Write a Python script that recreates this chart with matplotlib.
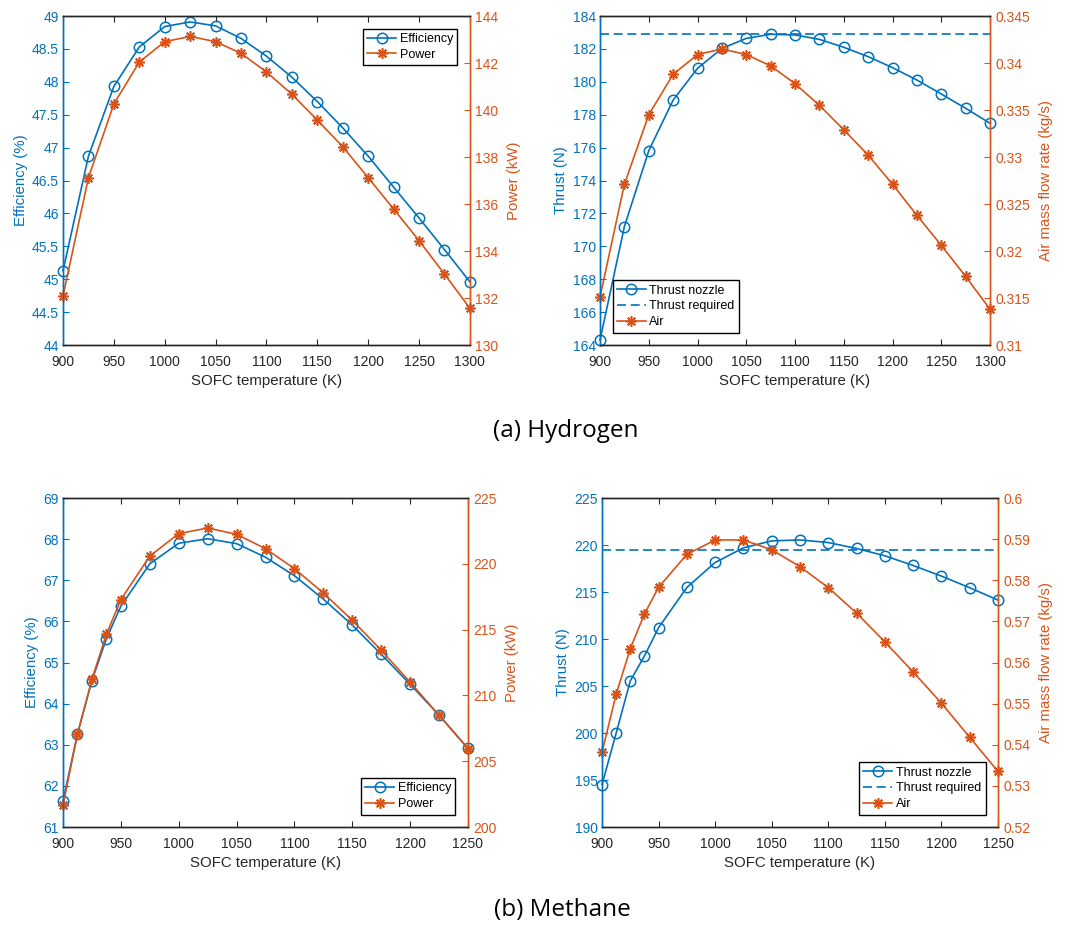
import numpy as np
import matplotlib.pyplot as plt
from matplotlib.lines import Line2D

plt.rcParams['font.family'] = ['Liberation Sans', 'DejaVu Sans']
plt.rcParams['font.size'] = 10

BLUE = '#0072BD'
ORANGE = '#D95319'
GREY = '#262626'

# --- Hydrogen ---
h2_temp = [900, 925, 950, 975, 1000, 1025, 1050, 1075, 1100, 1125, 1150, 1175,
           1200, 1225, 1250, 1275, 1300]
h2_eff = [45.13, 46.87, 47.93, 48.53, 48.84, 48.91, 48.85, 48.66, 48.39, 48.07,
          47.70, 47.30, 46.87, 46.40, 45.93, 45.45, 44.96]
h2_power = [132.09, 137.12, 140.26, 142.04, 142.91, 143.13, 142.91, 142.41, 141.62,
            140.67, 139.57, 138.44, 137.12, 135.79, 134.44, 133.02, 131.56]
h2_thrust = [164.30, 171.20, 175.81, 178.89, 180.82, 182.03, 182.64, 182.89, 182.85,
             182.58, 182.10, 181.53, 180.86, 180.11, 179.26, 178.39, 177.48]
h2_thrust_req = 182.91
h2_air = [0.3151, 0.3271, 0.3345, 0.3388, 0.3409, 0.3415, 0.3409, 0.3397, 0.3378,
          0.3355, 0.3329, 0.3302, 0.3271, 0.3238, 0.3206, 0.3173, 0.3138]

# --- Methane ---
ch4_temp = [900, 912.5, 925, 937.5, 950, 975, 1000, 1025, 1050, 1075, 1100, 1125,
            1150, 1175, 1200, 1225, 1250]
ch4_eff = [61.63, 63.26, 64.56, 65.58, 66.37, 67.40, 67.90, 68.01, 67.89, 67.56,
           67.11, 66.54, 65.91, 65.20, 64.47, 63.72, 62.91]
ch4_power = [201.66, 207.08, 211.23, 214.65, 217.28, 220.59, 222.29, 222.72, 222.24,
             221.15, 219.63, 217.78, 215.71, 213.43, 211.00, 208.49, 205.96]
ch4_thrust = [194.52, 200.00, 205.55, 208.20, 211.21, 215.49, 218.14, 219.70, 220.44,
              220.54, 220.26, 219.63, 218.85, 217.82, 216.69, 215.45, 214.14]
ch4_thrust_req = 219.45
ch4_air = [0.5382, 0.5523, 0.5634, 0.5718, 0.5783, 0.5863, 0.5898, 0.5898, 0.5874,
           0.5833, 0.5782, 0.5720, 0.5650, 0.5577, 0.5501, 0.5418, 0.5335]

xlabel = 'SOFC temperature (K)'

STAR = (8, 2, 0)
DASH = (0, (5.4, 2.8))
circle_kw = dict(color=BLUE, marker='o', mfc='none', ms=7.5, mew=1.1, lw=1.2)
star_kw = dict(color=ORANGE, marker=STAR, ms=7.5, mew=1.2, lw=1.2)
legend_kw = dict(fontsize=9, fancybox=False, framealpha=1, edgecolor='black',
                 handlelength=2.3, handletextpad=0.3, borderpad=0.35,
                 labelspacing=0.3, borderaxespad=1.0)


def style_axes(ax, ax2, xlim, xticks, ylim, yticks, y2lim, y2ticks):
    ax.set_xlim(xlim)
    ax.set_xticks(xticks)
    ax.set_ylim(ylim)
    ax.set_yticks(yticks)
    ax.set_yticklabels(['%g' % v for v in yticks])
    ax2.set_ylim(y2lim)
    ax2.set_yticks(y2ticks)
    ax2.set_yticklabels(['%g' % v for v in y2ticks])
    for a in (ax, ax2):
        for s in a.spines.values():
            s.set_linewidth(1.0)
        a.spines['top'].set_color(GREY)
        a.spines['bottom'].set_color(GREY)
        a.spines['left'].set_color(BLUE)
        a.spines['right'].set_color(ORANGE)
    ax.tick_params(axis='x', direction='in', top=True, length=4, colors=GREY,
                   labelsize=10, pad=7.5)
    ax.tick_params(axis='y', direction='in', length=4, colors=BLUE, labelsize=10, pad=3)
    ax2.tick_params(axis='y', direction='in', length=4, colors=ORANGE, labelsize=10, pad=4)
    ax.set_xlabel(xlabel, color=GREY, fontsize=10.8, labelpad=3)


def efficiency_panel(rect, temp, eff, power, xlim, xticks, ylim, yticks, y2lim, y2ticks,
                     legend_loc):
    ax = fig.add_axes(rect)
    ax2 = ax.twinx()
    ax.plot(temp, eff, clip_on=False, **circle_kw)
    ax2.plot(temp, power, clip_on=False, **star_kw)
    style_axes(ax, ax2, xlim, xticks, ylim, yticks, y2lim, y2ticks)
    ax.set_ylabel('Efficiency (%)', color=BLUE, fontsize=10.8, labelpad=3)
    ax2.set_ylabel('Power (kW)', color=ORANGE, fontsize=10.8, labelpad=6)
    handles = [Line2D([], [], **circle_kw), Line2D([], [], **star_kw)]
    leg = ax2.legend(handles, ['Efficiency', 'Power'], loc=legend_loc, **legend_kw)
    leg.get_frame().set_linewidth(1.0)
    return ax, ax2


def thrust_panel(rect, temp, thrust, req, air, xlim, xticks, ylim, yticks, y2lim, y2ticks,
                 legend_loc):
    ax = fig.add_axes(rect)
    ax2 = ax.twinx()
    ax.plot(temp, thrust, clip_on=False, **circle_kw)
    ax.plot(temp, [req] * len(temp), color=BLUE, ls=DASH, lw=1.2)
    ax2.plot(temp, air, clip_on=False, **star_kw)
    style_axes(ax, ax2, xlim, xticks, ylim, yticks, y2lim, y2ticks)
    ax.set_ylabel('Thrust (N)', color=BLUE, fontsize=10.8, labelpad=3)
    ax2.set_ylabel('Air mass flow rate (kg/s)', color=ORANGE, fontsize=10.8, labelpad=6)
    handles = [Line2D([], [], **circle_kw),
               Line2D([], [], color=BLUE, ls=DASH, lw=1.2),
               Line2D([], [], **star_kw)]
    leg = ax2.legend(handles, ['Thrust nozzle', 'Thrust required', 'Air'], loc=legend_loc,
                     **legend_kw)
    leg.get_frame().set_linewidth(1.0)
    return ax, ax2


fig = plt.figure(figsize=(10.68, 9.26), dpi=100)

h2_x = np.arange(900, 1301, 50)
ch4_x = np.arange(900, 1251, 50)

efficiency_panel([0.059, 0.6274, 0.381, 0.3553], h2_temp, h2_eff, h2_power,
                 (900, 1300), h2_x, (44, 49), np.arange(44, 49.01, 0.5),
                 (130, 144), np.arange(130, 144.1, 2), 'upper right')
thrust_panel([0.5618, 0.6274, 0.3652, 0.3553], h2_temp, h2_thrust, h2_thrust_req, h2_air,
             (900, 1300), h2_x, (164, 184), np.arange(164, 184.1, 2),
             (0.31, 0.345), np.round(np.arange(0.31, 0.3451, 0.005), 3), 'lower left')
efficiency_panel([0.059, 0.1069, 0.3792, 0.3553], ch4_temp, ch4_eff, ch4_power,
                 (900, 1250), ch4_x, (61, 69), np.arange(61, 69.1, 1),
                 (200, 225), np.arange(200, 225.1, 5), 'lower right')
thrust_panel([0.5637, 0.1069, 0.3708, 0.3553], ch4_temp, ch4_thrust, ch4_thrust_req, ch4_air,
             (900, 1250), ch4_x, (190, 225), np.arange(190, 225.1, 5),
             (0.52, 0.6), np.round(np.arange(0.52, 0.6001, 0.01), 2), 'lower right')

fig.text(566 / 1068, 1 - 431 / 926, '(a) Hydrogen', ha='center', va='center', fontsize=17.5,
         family=['Open Sans', 'DejaVu Sans'], color='black')
fig.text(562 / 1068, 1 - 910 / 926, '(b) Methane', ha='center', va='center', fontsize=17.5,
         family=['Open Sans', 'DejaVu Sans'], color='black')

fig.savefig('out.png', dpi=100)
